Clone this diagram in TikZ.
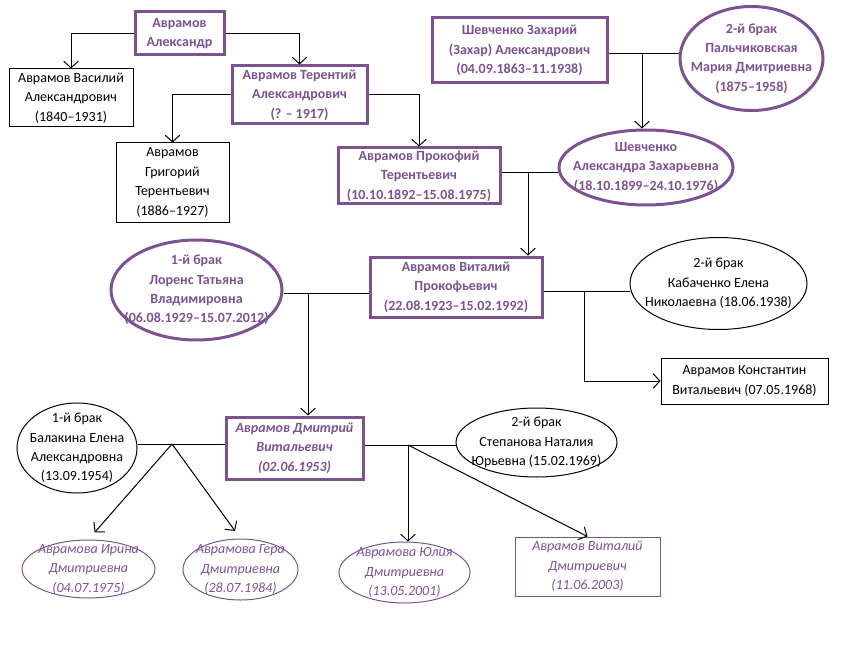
\documentclass[tikz,border=0pt]{standalone}
\usepackage{fontspec}
\setmainfont{Carlito}
\usetikzlibrary{shapes.geometric,arrows.meta}
\definecolor{rodpurple}{RGB}{125,82,145}

\begin{document}
\begin{tikzpicture}[x=0.75pt,y=-0.75pt]
        \tikzset{every node/.style={align=center, inner sep=1pt, font=\fontsize{10.5}{14.6}\selectfont},
        rodtext/.style={text=rodpurple, font=\fontsize{10.5}{14.6}\selectfont\bfseries},
        kidtext/.style={text=rodpurple, font=\fontsize{10.5}{14.6}\selectfont\itshape},
        rodbox/.style={draw=rodpurple, line width=2.25pt, rodtext},
        rodoval/.style={ellipse, draw=rodpurple, line width=2.25pt},
        plainbox/.style={draw, line width=0.75pt},
        plainoval/.style={ellipse, draw, line width=0.75pt},
        kidbox/.style={draw=rodpurple, line width=0.75pt, kidtext},
        kidoval/.style={ellipse, draw=rodpurple, line width=0.75pt},
        kid/.style={-{Straight Barb[length=5pt,width=11pt]}, line width=0.75pt},
        wed/.style={line width=0.75pt}}
        \useasboundingbox (0,0) rectangle (848,652);
        \node[rodbox, minimum width=66.75pt, minimum height=32.25pt] (alex) at (179.5,33.5) {Аврамов\\Александр};
        \node[plainbox, minimum width=93pt, minimum height=43.5pt] (vasily) at (71,98) {Аврамов Василий\\Александрович\\(1840–1931)};
        \node[rodbox, minimum width=101.25pt, minimum height=43.5pt] (terenty) at (299.5,95) {Аврамов Терентий\\Александрович\\(? – 1917)};
        \node[plainbox, minimum width=84.75pt, minimum height=59.25pt] (grigory) at (172.5,182.5) {Аврамов\\Григорий\\Терентьевич\\(1886–1927)};
        \node[rodbox, minimum width=121.5pt, minimum height=42pt] (prokofy) at (419,176) {Аврамов Прокофий\\Терентьевич\\(10.10.1892–15.08.1975)};
        \node[rodbox, minimum width=131.25pt, minimum height=48.75pt] (zakhar) at (519.5,50.5) {Шевченко Захарий\\(Захар) Александрович\\(04.09.1863–11.1938)};
        \node[rodoval, minimum width=107.25pt, minimum height=78pt,
          label={[rodtext]center:{2-й брак\\Пальчиковская\\Мария Дмитриевна\\(1875–1958)}}] (palch) at (751.5,58.5) {};
        \node[rodoval, minimum width=130.5pt, minimum height=56.25pt,
          label={[rodtext]center:{Шевченко\\Александра Захарьевна\\(18.10.1899–24.10.1976)}}] (alexandra) at (646,167.5) {};
        \node[rodbox, minimum width=129pt, minimum height=45pt] (vitaly) at (456,287) {Аврамов Виталий\\Прокофьевич\\(22.08.1923–15.02.1992)};
        \node[rodoval, minimum width=128.25pt, minimum height=75pt,
          label={[rodtext]center:{1-й брак\\Лоренс Татьяна\\Владимировна\\(06.08.1929–15.07.2012)}}] (lorens) at (196.5,290) {};
        \node[plainoval, minimum width=132.75pt, minimum height=69pt,
          label={center:{2-й брак\\Кабаченко Елена\\Николаевна (18.06.1938)}}] (kabach) at (718.5,283.5) {};
        \node[plainbox, minimum width=125.25pt, minimum height=34.5pt] (konst) at (744.5,381) {Аврамов Константин\\Витальевич (07.05.1968)};
        \node[rodbox, minimum width=102.75pt, minimum height=46.5pt, font=\fontsize{10.5}{14.6}\selectfont\bfseries\itshape] (dmitry) at (294.5,448) {Аврамов Дмитрий\\Витальевич\\(02.06.1953)};
        \node[plainoval, minimum width=90pt, minimum height=67.5pt,
          label={center:{1-й брак\\Балакина Елена\\Александровна\\(13.09.1954)}}] (balakina) at (77,448) {};
        \node[plainoval, minimum width=120.75pt, minimum height=51.75pt,
          label={center:{2-й брак\\Степанова Наталия\\Юрьевна (15.02.1969)}}] (stepanova) at (536.5,442.5) {};
        \node[kidoval, minimum width=99.75pt, minimum height=43.5pt,
          label={[kidtext]center:{Аврамова Ирина\\Дмитриевна\\(04.07.1975)}}] (irina) at (88.5,569) {};
        \node[kidoval, minimum width=86.25pt, minimum height=45.75pt,
          label={[kidtext]center:{Аврамова Гера\\Дмитриевна\\(28.07.1984)}}] (gera) at (240.5,569.5) {};
        \node[kidoval, minimum width=98.25pt, minimum height=45.75pt,
          label={[kidtext]center:{Аврамова Юлия\\Дмитриевна\\(13.05.2001)}}] (yulia) at (404.5,572.5) {};
        \node[kidbox, minimum width=108.75pt, minimum height=44.25pt] (vitdm) at (587.5,566.5) {Аврамов Виталий\\Дмитриевич\\(11.06.2003)};
        \coordinate (zp) at (642,54);
        \coordinate (pa) at (528,173);
        \coordinate (lv) at (308,293);
        \coordinate (vk) at (584,291);
        \coordinate (bd) at (172,444);
        \coordinate (ds) at (408,445);
        \draw[kid] (alex.west) -| (vasily.north);
        \draw[kid] (alex.east) -| (terenty.north);
        \draw[kid] (terenty.west) -| (grigory.north);
        \draw[kid] (terenty.east) -| (prokofy.north);
        \draw[wed] (zakhar.east |- zp) -- (palch.west |- zp);
        \draw[kid] (zp) -- (zp |- alexandra.north);
        \draw[wed] (prokofy.east |- pa) -- (alexandra.west |- pa);
        \draw[kid] (pa) -- (pa |- vitaly.north);
        \draw[wed] (lorens.east |- lv) -- (vitaly.west |- lv);
        \draw[kid] (lv) -- (lv |- dmitry.north);
        \draw[wed] (vitaly.east |- vk) -- (kabach.west |- vk);
        \draw[kid] (vk) |- (konst.west);
        \draw[wed] (balakina.east |- bd) -- (dmitry.west |- bd);
        \draw[kid, shorten >=7pt] (bd) -- (irina.north);
        \draw[kid, shorten >=7pt] (bd) -- (gera.north);
        \draw[wed] (dmitry.east |- ds) -- (stepanova.west |- ds);
        \draw[kid] (ds) -- (ds |- yulia.north);
        \draw[kid] (ds) -- (vitdm.north);
    \end{tikzpicture}
\end{document}
